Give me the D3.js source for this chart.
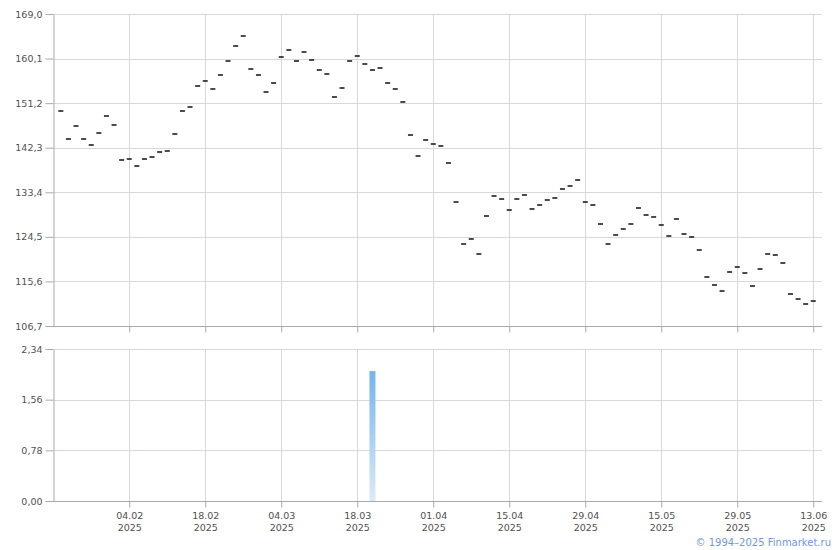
<!DOCTYPE html>
<html><head><meta charset="utf-8">
<script src="https://cdn.jsdelivr.net/npm/d3@7"></script>
<style>
body{margin:0;background:#fff;}
svg{display:block;font-family:"DejaVu Sans",Verdana,sans-serif;}
</style></head>
<body><svg id="c" width="840" height="550"></svg>
<script>
// price per trading day (index 0 = 22.01.2025 ... index 99 = 13.06.2025)
const prices = [
149.57,143.98,146.58,143.98,142.78,145.18,148.57,146.84,139.79,139.99,
138.59,139.99,140.39,141.38,141.58,144.98,149.57,150.37,154.56,155.56,
153.96,156.76,159.55,162.55,164.55,158.02,156.76,153.36,155.16,160.35,
161.75,159.55,161.35,159.75,157.76,156.96,152.37,154.16,159.55,160.55,
158.96,157.76,158.16,155.16,153.96,151.37,144.78,140.59,143.78,142.98,
142.58,139.19,131.40,123.01,124.01,121.08,128.60,132.60,132.00,129.80,
132.00,132.80,130.00,130.80,131.80,132.20,134.00,134.60,135.79,131.40,
130.80,127.01,123.01,124.81,126.01,127.01,130.20,128.80,128.40,126.81,
124.61,128.01,125.01,124.41,121.82,116.42,114.83,113.63,117.42,118.42,
117.22,114.63,118.02,121.02,120.82,119.22,113.03,112.03,111.03,111.63
];
const volumeIndex = [41];
const volumeValues = [2.0];
const tickIndex = [9,19,29,39,49,59,69,79,89,99];
const tickDates = ["04.02","18.02","04.03","18.03","01.04","15.04","29.04","15.05","29.05","13.06"];
const tickYear = "2025";
const priceTicks = [106.7,115.6,124.5,133.4,142.3,151.2,160.1,169.0];
const volumeTicks = [0,0.78,1.56,2.34];
const credit = "© 1994–2025 Finmarket.ru";

const svg = d3.select("#c");
const L = 54, R = 822;
const x = d3.scaleLinear().domain([-0.9, 100.15]).range([L, R]);
const yP = d3.scaleLinear().domain([106.7, 169.0]).range([326, 14]);
const yV = d3.scaleLinear().domain([0, 2.34]).range([501, 349]);
const fmt = d => d.toFixed(1).replace(".", ",");
const fmt2 = d => d.toFixed(2).replace(".", ",");
const gridC = "#d5d8dc", axisC = "#a6a9b0", txtC = "#505050";

const defs = svg.append("defs");
const grad = defs.append("linearGradient").attr("id","vg").attr("x1",0).attr("y1",0).attr("x2",0).attr("y2",1);
grad.append("stop").attr("offset","0%").attr("stop-color","#72b6ea");
grad.append("stop").attr("offset","100%").attr("stop-color","#dceaf8");

function panel(y, ticks, f) {
  const [b, t] = y.range();
  const g = svg.append("g");
  g.selectAll(".hg").data(ticks).join("line")
    .attr("x1", L).attr("x2", R)
    .attr("y1", d => Math.round(y(d)) + 0.5).attr("y2", d => Math.round(y(d)) + 0.5)
    .attr("stroke", gridC);
  g.selectAll(".vg").data(tickIndex).join("line")
    .attr("x1", d => Math.round(x(d)) + 0.5).attr("x2", d => Math.round(x(d)) + 0.5)
    .attr("y1", t).attr("y2", b)
    .attr("stroke", gridC);
  const ay = g.append("g").attr("transform", `translate(${L - 0.5},0)`)
    .call(d3.axisLeft(y).tickValues(ticks).tickFormat(f).tickSize(8).tickPadding(3).tickSizeOuter(0));
  ay.select(".domain").attr("stroke", axisC);
  ay.selectAll(".tick line").attr("stroke", axisC);
  ay.selectAll(".tick text").attr("fill", txtC).style("font-size", "9.5px")
    .style("font-family", '"DejaVu Sans",Verdana,sans-serif');
  const ax = g.append("g").attr("transform", `translate(0,${b + 0.5})`)
    .call(d3.axisBottom(x).tickValues(tickIndex).tickFormat("").tickSize(6).tickSizeOuter(0));
  ax.select(".domain").attr("stroke", axisC).attr("d", `M${L - 1},0H${R}`);
  ax.selectAll(".tick line").attr("stroke", axisC);
  return ax;
}

panel(yP, priceTicks, fmt);
const axB = panel(yV, volumeTicks, fmt2);

const lab = axB.selectAll(".tick").data(tickIndex);
lab.append("text").attr("y", 17).attr("fill", txtC).attr("text-anchor","middle")
  .style("font-size","9.5px").style("font-family",'"DejaVu Sans",Verdana,sans-serif')
  .text((d, i) => tickDates[i]);
lab.append("text").attr("y", 29).attr("fill", txtC).attr("text-anchor","middle")
  .style("font-size","9.5px").style("font-family",'"DejaVu Sans",Verdana,sans-serif')
  .text(tickYear);

// price marks
svg.append("g").selectAll("rect").data(prices).join("rect")
  .attr("x", (d, i) => x(i) - 2.5)
  .attr("y", d => Math.round(yP(d)) - 0.75)
  .attr("width", 5).attr("height", 1.5)
  .attr("fill", "#111");

// volume bars
svg.append("g").selectAll("rect").data(volumeValues).join("rect")
  .attr("x", (d, i) => x(volumeIndex[i]) - 3)
  .attr("y", d => yV(d))
  .attr("width", 6)
  .attr("height", d => yV(0) - yV(d))
  .attr("fill", "url(#vg)");

svg.append("text").attr("x", 831).attr("y", 546).attr("text-anchor","end")
  .attr("fill", "#7496de").style("font-size","10px").text(credit);
</script></body></html>
